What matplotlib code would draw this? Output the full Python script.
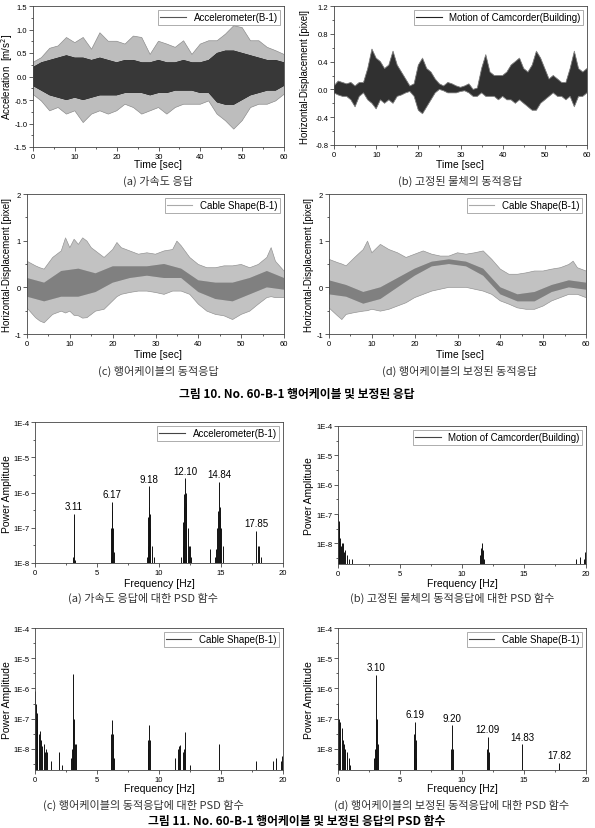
import numpy as np
import matplotlib
matplotlib.use('Agg')
import matplotlib.pyplot as plt
from matplotlib.lines import Line2D
from matplotlib.ticker import MultipleLocator, FixedLocator

plt.rcParams['font.family'] = ['Liberation Sans', 'DejaVu Sans']
plt.rcParams['hatch.linewidth'] = 0.6
plt.rcParams['axes.unicode_minus'] = False
KR = ['Noto Sans CJK KR', 'DejaVu Sans']

# ---- time histories: envelopes ----
t_a = [0, 2, 4, 6, 8, 10, 12, 14, 16, 18, 20, 22, 24, 26, 28, 30, 32, 34, 36, 38,
       40, 42, 44, 46, 48, 50, 52, 54, 56, 58, 60]
up_a = [0.30, 0.40, 0.60, 0.65, 0.83, 0.72, 0.83, 0.58, 0.93, 0.75, 0.75, 0.69, 0.86, 0.83,
        0.47, 0.75, 0.69, 0.62, 0.76, 0.47, 0.69, 0.76, 0.76, 0.90, 1.08, 1.04, 0.76, 0.76,
        0.62, 0.55, 0.47]
lo_a = [-0.38, -0.52, -0.73, -0.66, -0.80, -0.73, -0.98, -0.80, -0.73, -0.80, -0.73, -0.59,
        -0.66, -0.80, -0.73, -0.66, -0.80, -0.66, -0.59, -0.59, -0.59, -0.52, -0.80, -0.94,
        -1.12, -0.94, -0.66, -0.59, -0.59, -0.52, -0.38]
core_hi_a = [0.20, 0.30, 0.35, 0.40, 0.45, 0.40, 0.40, 0.35, 0.40, 0.35, 0.30, 0.35, 0.35, 0.30,
             0.30, 0.35, 0.30, 0.30, 0.35, 0.30, 0.30, 0.35, 0.50, 0.55, 0.55, 0.50, 0.45, 0.40,
             0.35, 0.35, 0.30]
core_lo_a = [-0.20, -0.30, -0.40, -0.45, -0.50, -0.45, -0.50, -0.45, -0.40, -0.40, -0.40, -0.35,
             -0.35, -0.35, -0.40, -0.35, -0.35, -0.30, -0.30, -0.30, -0.35, -0.35, -0.55, -0.60,
             -0.60, -0.50, -0.40, -0.35, -0.30, -0.30, -0.20]

t_b = list(range(61))
up_b = [0.05, 0.12, 0.10, 0.08, 0.10, 0.05, 0.10, 0.10, 0.30, 0.58, 0.45, 0.40, 0.30, 0.35,
        0.55, 0.35, 0.25, 0.15, 0.05, 0.08, 0.35, 0.45, 0.30, 0.25, 0.15, 0.08, 0.05, 0.10,
        0.08, 0.05, 0.03, 0.05, 0.08, 0.00, 0.02, 0.30, 0.50, 0.25, 0.20, 0.20, 0.20, 0.25,
        0.35, 0.40, 0.45, 0.30, 0.25, 0.35, 0.55, 0.45, 0.30, 0.15, 0.20, 0.15, 0.10, 0.10,
        0.30, 0.55, 0.30, 0.25, 0.30]
lo_b = [-0.05, -0.08, -0.10, -0.10, -0.15, -0.25, -0.10, -0.05, -0.15, -0.20, -0.28, -0.15,
        -0.20, -0.15, -0.20, -0.10, -0.08, -0.05, -0.03, -0.10, -0.30, -0.35, -0.25, -0.15,
        -0.05, 0.00, -0.02, -0.05, -0.05, -0.05, -0.03, -0.02, -0.05, -0.10, -0.10, -0.05,
        -0.10, -0.10, -0.10, -0.15, -0.10, -0.15, -0.15, -0.20, -0.15, -0.20, -0.25, -0.30,
        -0.30, -0.20, -0.15, -0.10, -0.05, -0.10, -0.10, -0.15, -0.10, -0.25, -0.10, -0.10,
        -0.05]

t_c = [0, 2, 3, 4, 6, 8, 9, 10, 11, 12, 13, 14, 15, 16, 18, 20, 21, 22, 24, 26, 28, 30, 32,
       34, 35, 36, 38, 40, 42, 44, 46, 48, 50, 52, 54, 56, 57, 58, 60]
up_c = [0.56, 0.46, 0.42, 0.39, 0.64, 0.78, 1.06, 0.85, 1.03, 0.92, 1.06, 0.99, 0.85, 0.78,
        0.64, 0.81, 0.96, 0.85, 0.78, 0.71, 0.74, 0.71, 0.78, 0.81, 0.99, 0.89, 0.64, 0.49,
        0.42, 0.42, 0.46, 0.46, 0.49, 0.42, 0.49, 0.64, 0.85, 0.56, 0.35]
lo_c = [-0.44, -0.65, -0.72, -0.76, -0.58, -0.51, -0.55, -0.51, -0.60, -0.61, -0.66, -0.65,
        -0.58, -0.51, -0.47, -0.29, -0.20, -0.15, -0.11, -0.08, -0.08, -0.11, -0.15, -0.08,
        -0.08, -0.08, -0.15, -0.36, -0.51, -0.58, -0.61, -0.69, -0.58, -0.51, -0.36, -0.22,
        -0.20, -0.22, -0.22]

t_d = [0, 2, 3, 4, 6, 8, 9, 10, 12, 14, 16, 18, 20, 22, 24, 26, 28, 30, 32, 34, 36, 38, 40,
       42, 44, 46, 48, 50, 52, 54, 56, 57, 58, 60]
up_d = [0.60, 0.53, 0.50, 0.46, 0.64, 0.81, 0.99, 0.74, 0.92, 0.81, 0.74, 0.64, 0.71, 0.78,
        0.71, 0.67, 0.67, 0.74, 0.71, 0.74, 0.78, 0.60, 0.39, 0.28, 0.28, 0.31, 0.35, 0.35,
        0.39, 0.42, 0.49, 0.56, 0.42, 0.35]
lo_d = [-0.44, -0.61, -0.69, -0.58, -0.54, -0.51, -0.50, -0.47, -0.51, -0.47, -0.40, -0.33,
        -0.22, -0.15, -0.08, -0.04, 0.00, 0.00, 0.00, -0.04, -0.08, -0.15, -0.29, -0.36, -0.44,
        -0.47, -0.47, -0.40, -0.29, -0.22, -0.15, -0.15, -0.15, -0.22]

t_core = [0, 4, 8, 12, 16, 20, 24, 28, 32, 36, 40, 44, 48, 52, 56, 60]
core_hi_c = [0.20, 0.10, 0.35, 0.40, 0.30, 0.45, 0.45, 0.45, 0.50, 0.40, 0.15, 0.10, 0.10, 0.20, 0.35, 0.20]
core_lo_c = [-0.20, -0.30, -0.20, -0.20, -0.10, 0.10, 0.20, 0.25, 0.20, 0.20, -0.10, -0.25, -0.30, -0.15, 0.00, -0.05]
core_hi_d = [0.15, 0.05, -0.10, 0.00, 0.20, 0.40, 0.55, 0.60, 0.55, 0.40, 0.00, -0.15, -0.10, 0.05, 0.15, 0.10]
core_lo_d = [-0.15, -0.20, -0.35, -0.25, 0.00, 0.25, 0.45, 0.50, 0.45, 0.25, -0.15, -0.30, -0.30, -0.10, 0.00, -0.05]

# ---- PSD spectra: line frequencies [Hz] and amplitudes ----
f_pa = [3.05, 3.11, 3.2, 6.1, 6.15, 6.17, 6.22, 6.25, 6.35, 9.0, 9.1, 9.15, 9.18, 9.22, 9.25, 9.3,
        9.4, 9.6, 11.8, 11.9, 11.95, 12.0, 12.05, 12.1, 12.15, 12.2, 12.3, 12.4, 12.5, 12.6, 14.1,
        14.5, 14.6, 14.7, 14.78, 14.84, 14.9, 14.95, 15.0, 15.2, 17.85, 18.0, 18.1, 18.2]
p_pa = [1.5e-8, 2.5e-7, 1.2e-8, 1.5e-8, 1e-7, 5.5e-7, 3e-7, 1e-7, 2e-8, 1.5e-8, 3e-8, 2e-7, 1.5e-6,
        4e-7, 2.5e-7, 1e-7, 3e-8, 1.5e-8, 1.5e-8, 3e-8, 1.5e-7, 4e-7, 9e-7, 2.5e-6, 1e-6, 5e-7,
        1e-7, 3e-8, 3e-8, 1.5e-8, 2.5e-8, 1.5e-8, 2.5e-8, 1e-7, 3e-7, 2e-6, 4e-7, 2e-7, 1e-7,
        3e-8, 8e-8, 3e-8, 3e-8, 1.5e-8]
lab_a = [(3.11, 2.5e-7, '3.11'), (6.17, 5.5e-7, '6.17'), (9.18, 1.5e-6, '9.18'),
         (12.10, 2.5e-6, '12.10'), (14.84, 2e-6, '14.84'), (17.85, 8e-8, '17.85')]

f_pb = [0.02, 0.05, 0.08, 0.12, 0.18, 0.25, 0.3, 0.4, 0.5, 0.6, 0.75, 0.9, 1.1, 11.45, 11.55,
        11.6, 11.7, 11.8, 19.2, 19.5, 19.8, 19.95]
p_pb = [1e-7, 6e-8, 4e-8, 3e-8, 1.5e-8, 8e-9, 1e-8, 1e-8, 5e-9, 6e-9, 4e-9, 3e-9, 3e-9, 4e-9,
        7e-9, 1e-8, 6e-9, 3e-9, 3e-9, 3.5e-9, 3e-9, 5e-9]

f_pc = [0.02, 0.08, 0.15, 0.2, 0.3, 0.4, 0.5, 0.6, 0.7, 0.8, 0.9, 1.0, 1.3, 1.9, 2.2, 2.9, 3.0,
        3.05, 3.1, 3.15, 3.2, 3.3, 6.1, 6.15, 6.2, 6.25, 6.3, 6.4, 9.1, 9.15, 9.2, 9.3, 11.3, 11.5,
        11.6, 11.7, 11.9, 12.0, 12.1, 12.5, 14.85, 17.85, 19.2, 19.4, 19.8, 19.95]
p_pc = [8e-7, 3e-7, 1.5e-7, 1e-7, 3e-8, 4e-8, 2e-8, 1.2e-8, 1.5e-8, 8e-9, 1e-8, 8e-9, 4e-9,
        8e-9, 3e-9, 5e-9, 1e-8, 1e-7, 3e-6, 1e-7, 1.5e-8, 1.5e-8, 5e-9, 3e-8, 9e-8, 3e-8, 1e-8,
        5e-9, 1e-8, 2e-8, 6e-8, 2e-8, 5e-9, 1e-8, 1.2e-8, 1.3e-8, 8e-9, 1e-8, 3.5e-8, 3e-9,
        1.5e-8, 4e-9, 4e-9, 5e-9, 4e-9, 6e-9]

f_pd = [0.02, 0.08, 0.15, 0.3, 0.4, 0.5, 0.6, 0.7, 0.85, 1.0, 2.9, 3.0, 3.05, 3.1, 3.15, 3.2,
        6.1, 6.15, 6.19, 6.25, 6.3, 9.15, 9.2, 9.3, 12.0, 12.09, 12.15, 14.83, 17.82]
p_pd = [3.3e-7, 1e-7, 8e-8, 5e-8, 2e-8, 1.5e-8, 1e-8, 8e-9, 5e-9, 3e-9, 5e-9, 1e-8, 1e-7,
        2.8e-6, 1e-7, 1.5e-8, 1e-8, 3e-8, 8e-8, 2e-8, 5e-9, 1e-8, 6e-8, 1e-8, 1e-8, 2.5e-8,
        8e-9, 1.4e-8, 3.5e-9]
lab_d = [(3.10, 2.8e-6, '3.10'), (6.19, 8e-8, '6.19'), (9.20, 6e-8, '9.20'),
         (12.09, 2.5e-8, '12.09'), (14.83, 1.4e-8, '14.83'), (17.82, 3.5e-9, '17.82')]

W, H = 595, 829
fig = plt.figure(figsize=(W / 100, H / 100), dpi=100)
HATCH = '|' * 24


def box(l, t, r, b):
    return fig.add_axes([l / W, 1 - b / H, (r - l) / W, (b - t) / H])


def style(ax):
    for s in ax.spines.values():
        s.set_linewidth(0.6)
        s.set_color('#444444')
    ax.tick_params(which='both', direction='out', top=False, right=False,
                   labelsize=5.5, width=0.6, color='#444444', pad=1.2)
    ax.tick_params(which='major', length=3)
    ax.tick_params(which='minor', length=1.5)


def legend(ax, label, color):
    h = Line2D([], [], color=color, lw=0.8)
    lg = ax.legend([h], [label], loc='upper right', fontsize=7, frameon=True, fancybox=False,
                   handlelength=2.6, borderpad=0.25, borderaxespad=0.4, handletextpad=0.8)
    lg.get_frame().set_edgecolor('#888888')
    lg.get_frame().set_linewidth(0.6)


def txt(x, y, s, **kw):
    fig.text(x / W, 1 - y / H, s, ha='center', va='center', **kw)


def time_axes(ax):
    ax.set_xlim(0, 60)
    ax.xaxis.set_major_locator(MultipleLocator(10))
    ax.xaxis.set_minor_locator(MultipleLocator(5))


def band(ax, t, lo, hi, face, hatch_col, edge=None, lw=0.0, **kw):
    ax.fill_between(t, lo, hi, facecolor=face, edgecolor=hatch_col, hatch=HATCH, lw=0, **kw)
    if edge is not None:
        ax.plot(t, hi, color=edge, lw=lw)
        ax.plot(t, lo, color=edge, lw=lw)


# (a) acceleration
ax = box(33, 7, 284, 148)
band(ax, t_a, lo_a, up_a, '#8a8a8a', '#bdbdbd', edge='#999999', lw=0.5)
band(ax, t_a, core_lo_a, core_hi_a, '#080808', '#383838')
time_axes(ax)
ax.set_ylim(-1.5, 1.5)
ax.yaxis.set_major_locator(MultipleLocator(0.5))
ax.yaxis.set_minor_locator(MultipleLocator(0.25))
ax.yaxis.set_major_formatter('{x:.1f}')
style(ax)
legend(ax, 'Accelerometer(B-1)', '#555555')

# (b) camcorder motion
ax = box(334, 7, 587, 146)
band(ax, t_b, lo_b, up_b, '#050505', '#303030', edge='#8a8a8a', lw=0.6)
time_axes(ax)
ax.set_ylim(-0.8, 1.2)
ax.yaxis.set_major_locator(MultipleLocator(0.4))
ax.yaxis.set_minor_locator(MultipleLocator(0.2))
ax.yaxis.set_major_formatter('{x:.1f}')
style(ax)
legend(ax, 'Motion of Camcorder(Building)', '#222222')

# (c) cable shape
ax = box(27, 195, 284, 335)
band(ax, t_c, lo_c, up_c, '#929292', '#c2c2c2', edge='#a0a0a0', lw=0.5)
band(ax, t_core, core_lo_c, core_hi_c, '#5a5a5a', '#4a4a4a', alpha=0.35)
time_axes(ax)
ax.set_ylim(-1, 2)
ax.yaxis.set_major_locator(MultipleLocator(1))
ax.yaxis.set_minor_locator(MultipleLocator(0.5))
style(ax)
legend(ax, 'Cable Shape(B-1)', '#aaaaaa')

# (d) corrected cable shape
ax = box(329, 195, 586, 335)
band(ax, t_d, lo_d, up_d, '#929292', '#c2c2c2', edge='#a0a0a0', lw=0.5)
band(ax, t_core, core_lo_d, core_hi_d, '#5a5a5a', '#4a4a4a', alpha=0.35)
time_axes(ax)
ax.set_ylim(-1, 2)
ax.yaxis.set_major_locator(MultipleLocator(1))
ax.yaxis.set_minor_locator(MultipleLocator(0.5))
style(ax)
legend(ax, 'Cable Shape(B-1)', '#aaaaaa')

txt(7, 77, 'Acceleration  [m/s$^2$]', fontsize=7, rotation=90)
txt(305, 77, 'Horizontal-Displacement [pixel]', fontsize=7, rotation=90)
txt(7, 265, 'Horizontal-Displacement [pixel]', fontsize=7, rotation=90)
txt(309, 265, 'Horizontal-Displacement [pixel]', fontsize=7, rotation=90)

for cx in (158, 460):
    txt(cx, 165, 'Time [sec]', fontsize=7.5)
    txt(cx, 355, 'Time [sec]', fontsize=7.5)
txt(158, 181, '(a) 가속도 응답', fontsize=8, family=KR, color='#333333')
txt(460, 181, '(b) 고정된 물체의 동적응답', fontsize=8, family=KR, color='#333333')
txt(158, 371, '(c) 행어케이블의 동적응답', fontsize=8, family=KR, color='#333333')
txt(460, 371, '(d) 행어케이블의 보정된 동적응답', fontsize=8, family=KR, color='#333333')
txt(297, 395, '그림 10. No. 60-B-1 행어케이블 및 보정된 응답', fontsize=8.5, family=KR,
    weight='bold')

# ---- PSD panels ----
dec = [1e-8, 1e-7, 1e-6, 1e-5, 1e-4]
dec_lab = ['1E-8', '1E-7', '1E-6', '1E-5', '1E-4']


def psd_axes(ax, f, p, bottom, label, labels=None):
    ax.set_yscale('log')
    ax.vlines(f, bottom, p, color='#111111', lw=0.7)
    ax.set_xlim(0, 20)
    ax.set_ylim(bottom, 1e-4)
    ax.xaxis.set_major_locator(MultipleLocator(5))
    ax.xaxis.set_minor_locator(MultipleLocator(2.5))
    ax.yaxis.set_major_locator(FixedLocator(dec))
    ax.yaxis.set_minor_locator(FixedLocator([3.16e-9, 3.16e-8, 3.16e-7, 3.16e-6, 3.16e-5]))
    ax.set_yticklabels(dec_lab)
    style(ax)
    legend(ax, label, '#444444')
    if labels:
        for x, y, s in labels:
            ax.annotate(s, (x, y), xytext=(0, 2), textcoords='offset points',
                        ha='center', va='bottom', fontsize=7)


ax = box(35, 423, 283, 564)
psd_axes(ax, f_pa, p_pa, 1e-8, 'Accelerometer(B-1)', lab_a)
ax = box(338, 427, 586, 565)
psd_axes(ax, f_pb, p_pb, 2e-9, 'Motion of Camcorder(Building)')
ax = box(35, 629, 283, 771)
psd_axes(ax, f_pc, p_pc, 2e-9, 'Cable Shape(B-1)')
ax = box(338, 629, 586, 771)
psd_axes(ax, f_pd, p_pd, 2e-9, 'Cable Shape(B-1)', lab_d)

txt(7, 494, 'Power Amplitude', fontsize=7.5, rotation=90)
txt(309, 496, 'Power Amplitude', fontsize=7.5, rotation=90)
txt(7, 700, 'Power Amplitude', fontsize=7.5, rotation=90)
txt(309, 700, 'Power Amplitude', fontsize=7.5, rotation=90)

txt(159, 584, 'Frequency [Hz]', fontsize=7.5)
txt(462, 584, 'Frequency [Hz]', fontsize=7.5)
txt(159, 789, 'Frequency [Hz]', fontsize=7.5)
txt(462, 789, 'Frequency [Hz]', fontsize=7.5)
txt(143, 598, '(a) 가속도 응답에 대한 PSD 함수', fontsize=8, family=KR, color='#333333')
txt(452, 598, '(b) 고정된 물체의 동적응답에 대한 PSD 함수', fontsize=8, family=KR, color='#333333')
txt(143, 805, '(c) 행어케이블의 동적응답에 대한 PSD 함수', fontsize=8, family=KR, color='#333333')
txt(452, 805, '(d) 행어케이블의 보정된 동적응답에 대한 PSD 함수', fontsize=8, family=KR,
    color='#333333')
txt(297, 822, '그림 11. No. 60-B-1 행어케이블 및 보정된 응답의 PSD 함수', fontsize=8.5,
    family=KR, weight='bold')

fig.savefig('out.png', dpi=100)
